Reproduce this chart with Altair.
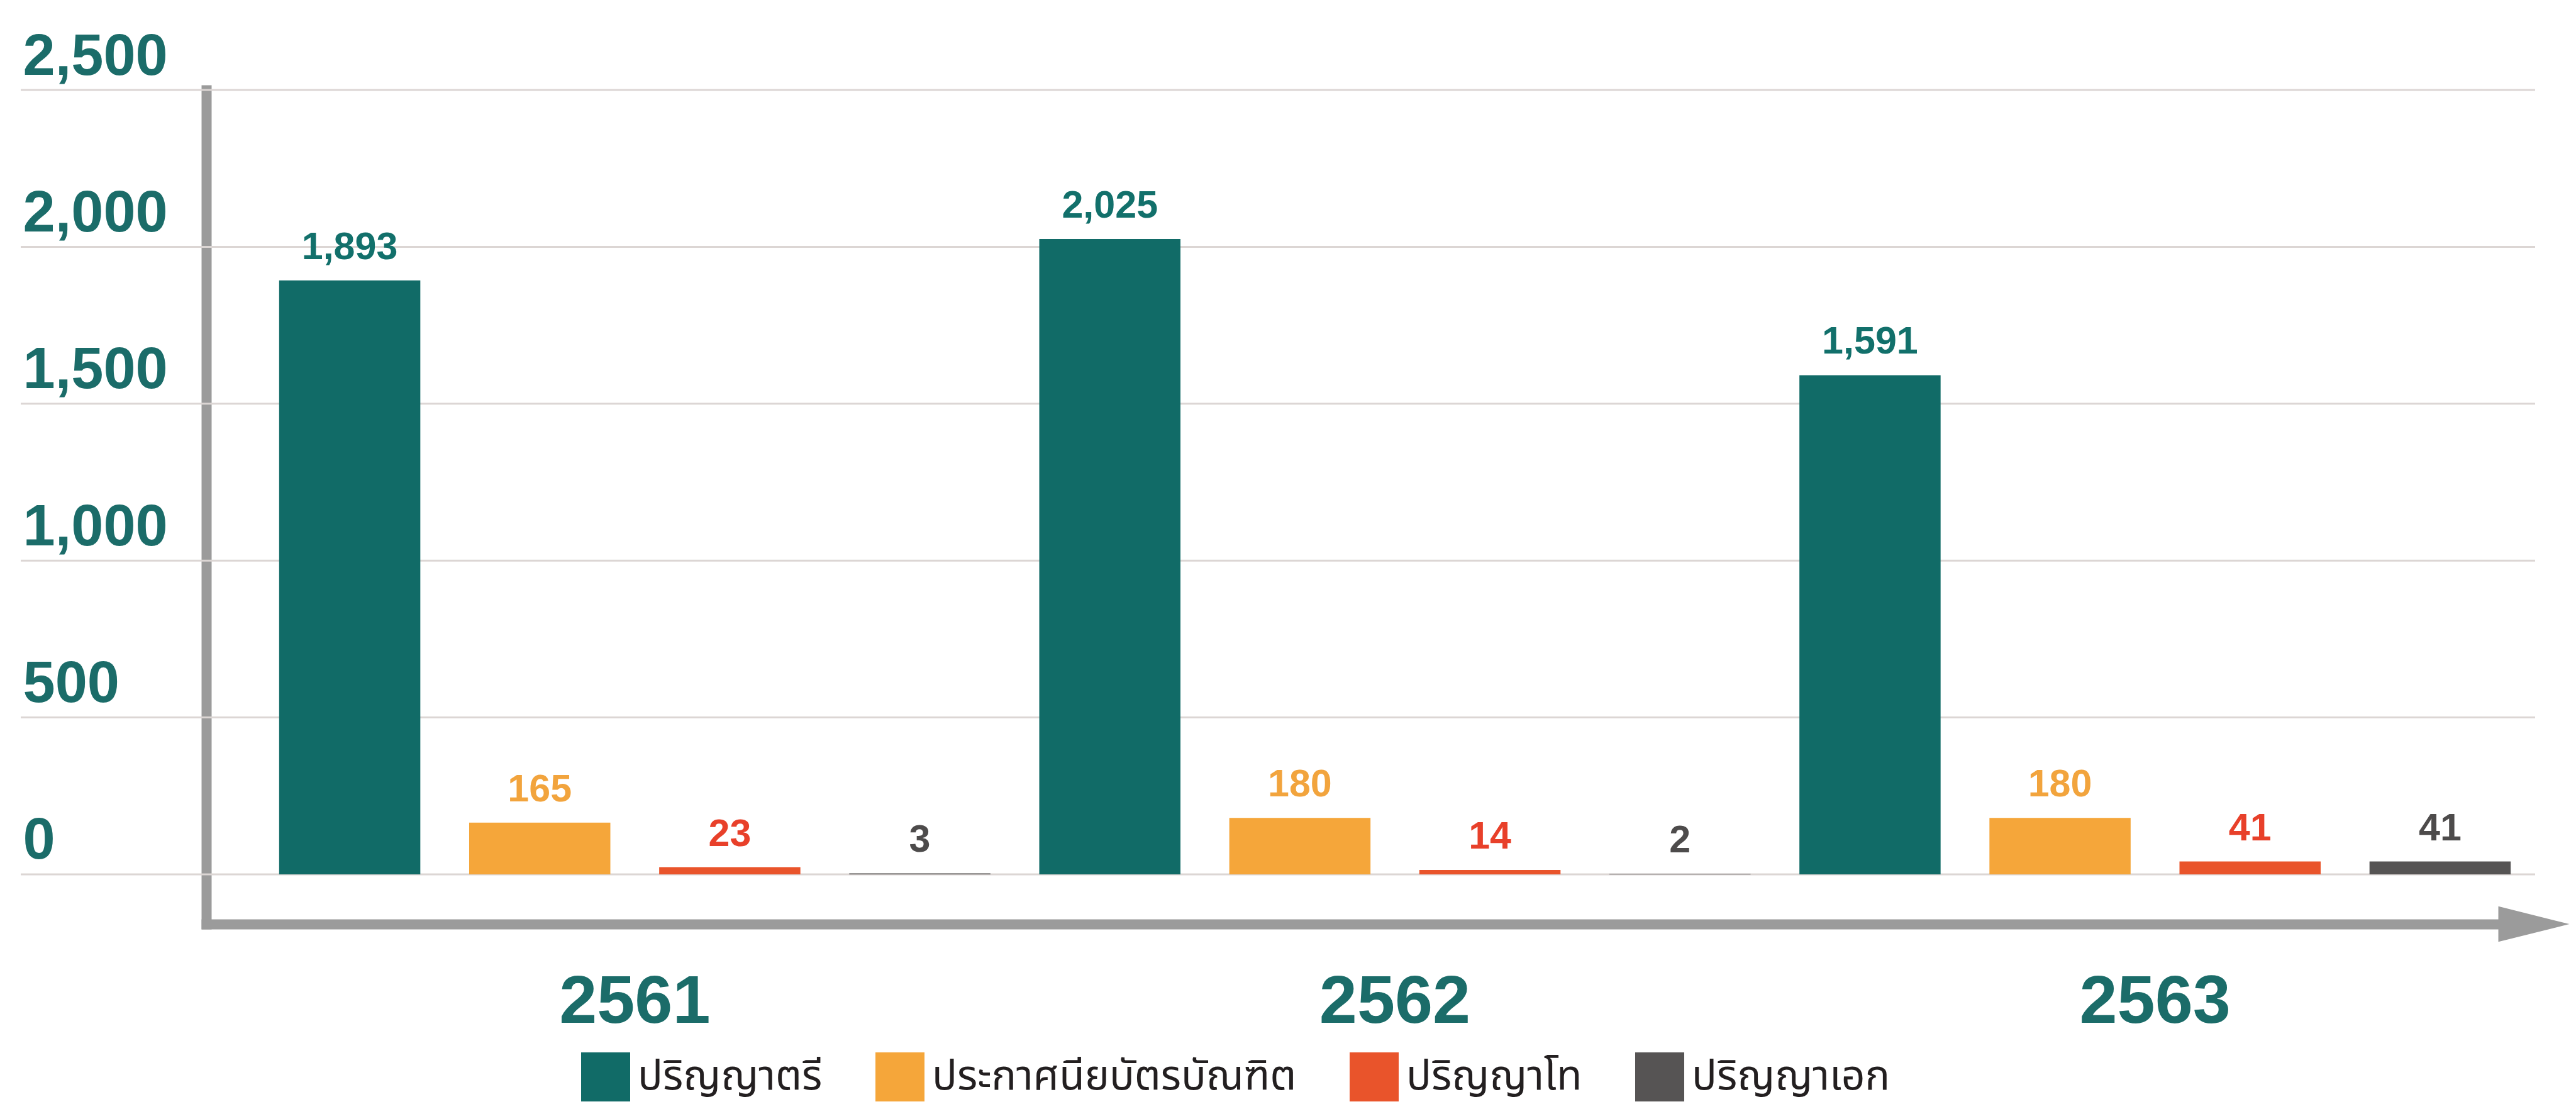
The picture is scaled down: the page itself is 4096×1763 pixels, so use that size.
import altair as alt
import pandas as pd

# ---- data ----
years = ["2561", "2562", "2563"]
degrees = ["ปริญญาตรี", "ประกาศนียบัตรบัณฑิต", "ปริญญาโท", "ปริญญาเอก"]
bachelor = [1893, 2025, 1591]
grad_diploma = [165, 180, 180]
master = [23, 14, 41]
doctorate = [3, 2, 41]
y_ticks = [0, 500, 1000, 1500, 2000, 2500]

bar_colors = ["#116b67", "#f5a63a", "#e9542b", "#565454"]
text_colors = ["#12706b", "#f2a43d", "#e8402a", "#4d4b4b"]

series = [bachelor, grad_diploma, master, doctorate]
rows = []
for d_i, deg in enumerate(degrees):
    for y_i, yr in enumerate(years):
        v = series[d_i][y_i]
        rows.append({"year": yr, "degree": deg, "value": v,
                     "label": f"{v:,}", "tc": text_colors[d_i]})
df = pd.DataFrame(rows)
grid_df = pd.DataFrame({"value": y_ticks})
arrow_df = pd.DataFrame({"a": [0]})

W, H = 3703, 1326
TEAL = "#1b6c69"
AXIS_GREY = "#9b9b9b"

y_scale = alt.Scale(domain=[-158.4, 2500], nice=False, zero=False)
x_scale = alt.Scale(paddingInner=0, paddingOuter=0.03185, align=1)
off_scale = alt.Scale(domain=degrees, paddingInner=0.257, paddingOuter=0.1285)

grid = alt.Chart(grid_df).mark_rule(color="#dcd6d4", strokeWidth=3).encode(
    y=alt.Y("value:Q", scale=y_scale),
    x=alt.value(-295),
    x2=alt.value(W),
)

bars = alt.Chart(df).mark_bar().encode(
    x=alt.X("year:N", sort=years, scale=x_scale,
            axis=alt.Axis(title=None, labelAngle=0, ticks=False, tickSize=0,
                          labelPadding=156, labelBaseline="alphabetic",
                          labelFontSize=108, labelFont="Liberation Sans",
                          labelFontWeight="bold", labelColor=TEAL,
                          labelLimit=0,
                          domainColor=AXIS_GREY, domainWidth=16,
                          domainCap="square", grid=False)),
    xOffset=alt.XOffset("degree:N", sort=degrees, scale=off_scale),
    y=alt.Y("value:Q", scale=y_scale,
            axis=alt.Axis(values=y_ticks, format=",d", title=None, grid=False,
                          ticks=False, tickSize=0, labelAlign="left",
                          labelPadding=292, labelBaseline="alphabetic",
                          labelOffset=-25, labelFontSize=92,
                          labelFont="Liberation Sans", labelFontWeight="bold",
                          labelColor=TEAL, labelLimit=0,
                          domainColor=AXIS_GREY,
                          domainWidth=16, domainCap="square",
                          labelOverlap=False, labelFlush=False)),
    y2=alt.datum(0),
    color=alt.Color("degree:N",
                    scale=alt.Scale(domain=degrees, range=bar_colors),
                    legend=alt.Legend(orient="none", legendX=596, legendY=1530,
                                      direction="horizontal", title=None,
                                      symbolType="square", symbolSize=6084,
                                      symbolStrokeWidth=0, symbolOpacity=1,
                                      labelFontSize=66,
                                      labelFont="'Noto Sans Thai', 'Noto Sans', sans-serif",
                                      labelColor="#231f20", labelOffset=12,
                                      columnPadding=84, padding=0, labelLimit=0)),
)

labels = alt.Chart(df).mark_text(dy=-34, baseline="alphabetic", fontSize=61,
                                 fontWeight="bold", font="Liberation Sans").encode(
    x=alt.X("year:N", sort=years, scale=x_scale),
    xOffset=alt.XOffset("degree:N", sort=degrees, scale=off_scale),
    y=alt.Y("value:Q", scale=y_scale),
    text="label:N",
    color=alt.Color("tc:N", scale=None),
)

arrow = alt.Chart(arrow_df).mark_point(
    shape="M-1,-0.5L1,0L-1,0.5Z", filled=True, size=12769,
    color=AXIS_GREY, opacity=1, strokeWidth=0,
).encode(x=alt.value(3701), y=alt.value(H))

chart = alt.layer(grid, bars, labels, arrow).properties(
    width=W, height=H,
    padding={"left": 320, "top": 135, "right": 57, "bottom": 294},
    autosize=alt.AutoSizeParams(type="none"),
).configure_view(stroke=None)

chart.save("out.html", embed_options={"renderer": "svg", "actions": False})
